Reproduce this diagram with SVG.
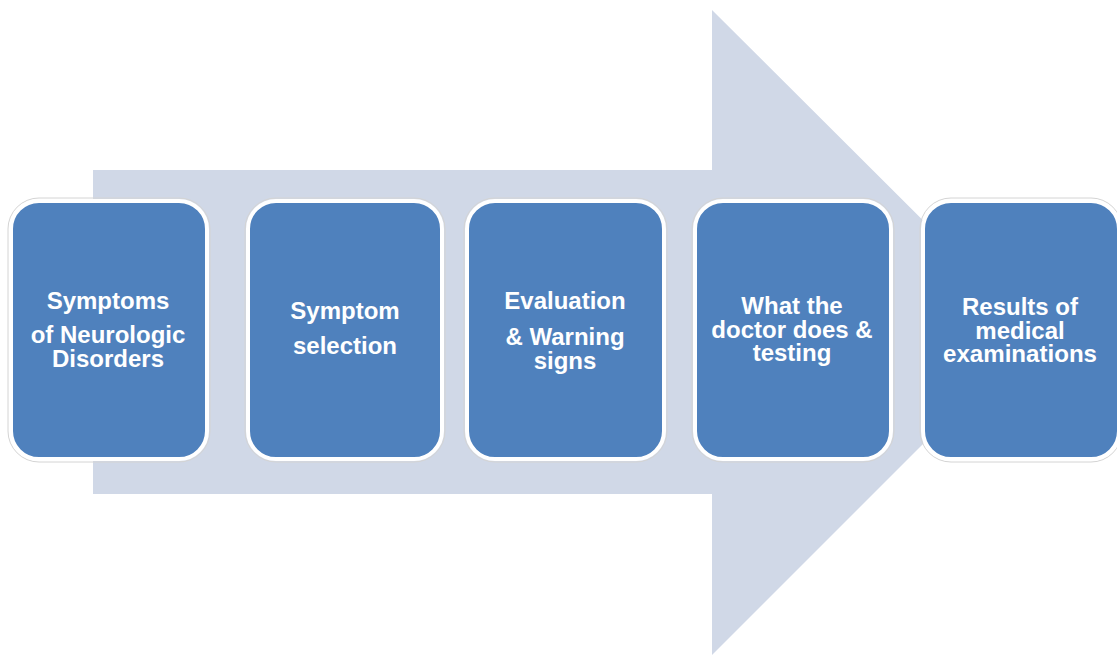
<svg xmlns="http://www.w3.org/2000/svg" width="1117" height="657" viewBox="0 0 1117 657">
<style>
.bg{fill:#ffffff}
.arrow{fill:#D0D8E7}
.halo{fill:none;stroke:#d4d4d4;stroke-width:1}
.box{fill:#4F81BD;stroke:#ffffff;stroke-width:4}
.t{font-family:"Liberation Sans",Arial,sans-serif;font-weight:bold;font-size:24px;fill:#ffffff;text-anchor:middle}
</style>
<rect class="bg" x="0" y="0" width="1117" height="657"/>
<g id="arrow">
<polygon class="arrow" points="93,170 712,170 712,10 1035,332 712,655 712,494 93,494"/>
</g>
<g id="connectors"></g>
<g id="n1">
<rect class="halo" x="8" y="198" width="202" height="264" rx="31"/>
<rect class="box" x="11" y="201" width="196" height="258" rx="28"/>
<text class="t" x="108" y="309">Symptoms</text>
<text class="t" x="108" y="343">of Neurologic</text>
<text class="t" x="108" y="367">Disorders</text>
</g>
<g id="n2">
<rect class="halo" x="245" y="198" width="200" height="264" rx="31"/>
<rect class="box" x="248" y="201" width="194" height="258" rx="28"/>
<text class="t" x="345" y="319">Symptom</text>
<text class="t" x="345" y="354">selection</text>
</g>
<g id="n3">
<rect class="halo" x="464" y="198" width="203" height="264" rx="31"/>
<rect class="box" x="467" y="201" width="197" height="258" rx="28"/>
<text class="t" x="565" y="309">Evaluation</text>
<text class="t" x="565" y="345">&amp; Warning</text>
<text class="t" x="565" y="369">signs</text>
</g>
<g id="n4">
<rect class="halo" x="692" y="198" width="202" height="264" rx="31"/>
<rect class="box" x="695" y="201" width="196" height="258" rx="28"/>
<text class="t" x="792" y="314">What the</text>
<text class="t" x="792" y="338">doctor does &amp;</text>
<text class="t" x="792" y="361">testing</text>
</g>
<g id="n5">
<rect class="halo" x="920" y="198" width="202" height="264" rx="31"/>
<rect class="box" x="923" y="201" width="196" height="258" rx="28"/>
<text class="t" x="1020" y="315">Results of</text>
<text class="t" x="1020" y="339">medical</text>
<text class="t" x="1020" y="362" textLength="154" lengthAdjust="spacingAndGlyphs">examinations</text>
</g>
</svg>
